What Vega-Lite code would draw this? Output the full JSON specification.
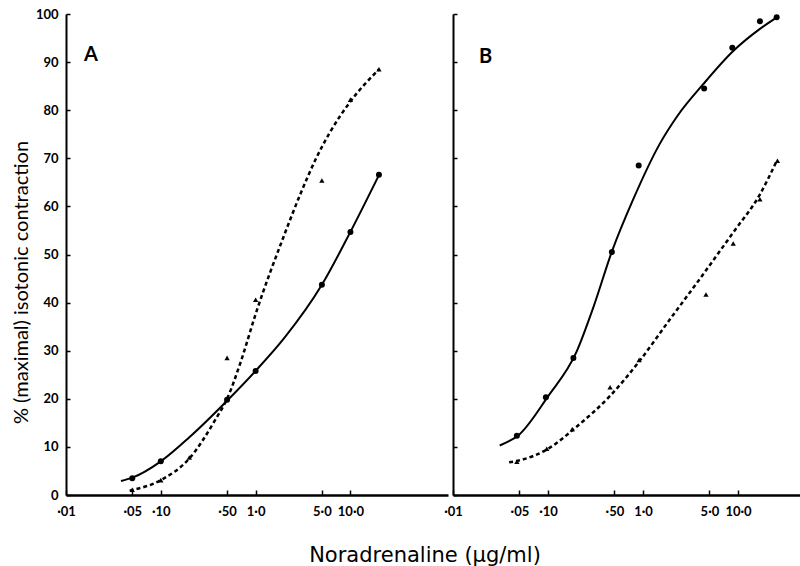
{
  "$schema": "https://vega.github.io/schema/vega-lite/v6.json",
  "padding": {"left": 11, "top": 8, "right": 0, "bottom": 0},
  "background": "white",
  "bounds": "flush",
  "spacing": 5,
  "title": {"text": "Noradrenaline (μg/ml)", "orient": "bottom", "anchor": "middle", "font": "DejaVu Sans", "fontSize": 21, "fontWeight": "normal", "color": "black", "offset": 27, "dx": 19},
  "config": {
    "view": {"stroke": null},
    "axis": {"grid": false, "domainColor": "black", "tickColor": "black", "labelColor": "black", "titleColor": "black", "labelFont": "Lato", "titleFont": "Lato", "labelFontWeight": "bold", "titleFontWeight": "normal"}
  },
  "datasets": {
    "pts": [
      {"panel": "A", "series": "circle", "dose": 0.05, "pct": 3.5},
      {"panel": "A", "series": "circle", "dose": 0.1, "pct": 7.0},
      {"panel": "A", "series": "circle", "dose": 0.5, "pct": 19.8},
      {"panel": "A", "series": "circle", "dose": 1.0, "pct": 25.8},
      {"panel": "A", "series": "circle", "dose": 5.0, "pct": 43.7},
      {"panel": "A", "series": "circle", "dose": 10.0, "pct": 54.7},
      {"panel": "A", "series": "circle", "dose": 20.0, "pct": 66.6},
      {"panel": "A", "series": "triangle", "dose": 0.05, "pct": 1.1},
      {"panel": "A", "series": "triangle", "dose": 0.1, "pct": 3.1},
      {"panel": "A", "series": "triangle", "dose": 0.2, "pct": 7.8},
      {"panel": "A", "series": "triangle", "dose": 0.5, "pct": 28.5},
      {"panel": "A", "series": "triangle", "dose": 1.0, "pct": 40.6},
      {"panel": "A", "series": "triangle", "dose": 5.0, "pct": 65.4},
      {"panel": "A", "series": "triangle", "dose": 10.0, "pct": 82.2},
      {"panel": "A", "series": "triangle", "dose": 20.0, "pct": 88.5},
      {"panel": "B", "series": "circle", "dose": 0.047, "pct": 12.3},
      {"panel": "B", "series": "circle", "dose": 0.095, "pct": 20.3},
      {"panel": "B", "series": "circle", "dose": 0.185, "pct": 28.5},
      {"panel": "B", "series": "circle", "dose": 0.47, "pct": 50.5},
      {"panel": "B", "series": "circle", "dose": 0.9, "pct": 68.5},
      {"panel": "B", "series": "circle", "dose": 4.4, "pct": 84.5},
      {"panel": "B", "series": "circle", "dose": 8.7, "pct": 93.0},
      {"panel": "B", "series": "circle", "dose": 17.0, "pct": 98.5},
      {"panel": "B", "series": "circle", "dose": 25.5, "pct": 99.3},
      {"panel": "B", "series": "triangle", "dose": 0.047, "pct": 6.9},
      {"panel": "B", "series": "triangle", "dose": 0.097, "pct": 9.6},
      {"panel": "B", "series": "triangle", "dose": 0.18, "pct": 13.7},
      {"panel": "B", "series": "triangle", "dose": 0.45, "pct": 22.4},
      {"panel": "B", "series": "triangle", "dose": 0.91, "pct": 28.1},
      {"panel": "B", "series": "triangle", "dose": 4.6, "pct": 41.7},
      {"panel": "B", "series": "triangle", "dose": 8.9, "pct": 52.3},
      {"panel": "B", "series": "triangle", "dose": 17.0, "pct": 61.5},
      {"panel": "B", "series": "triangle", "dose": 26.0, "pct": 69.5}
    ],
    "curves": [
      {"panel": "A", "series": "circle", "dose": 0.038, "pct": 2.9},
      {"panel": "A", "series": "circle", "dose": 0.05, "pct": 3.6},
      {"panel": "A", "series": "circle", "dose": 0.1, "pct": 7.0},
      {"panel": "A", "series": "circle", "dose": 0.2, "pct": 12.0},
      {"panel": "A", "series": "circle", "dose": 0.5, "pct": 19.6},
      {"panel": "A", "series": "circle", "dose": 1.0, "pct": 25.8},
      {"panel": "A", "series": "circle", "dose": 2.0, "pct": 32.6},
      {"panel": "A", "series": "circle", "dose": 5.0, "pct": 43.7},
      {"panel": "A", "series": "circle", "dose": 10.0, "pct": 54.7},
      {"panel": "A", "series": "circle", "dose": 20.0, "pct": 66.5},
      {"panel": "A", "series": "triangle", "dose": 0.047, "pct": 0.9},
      {"panel": "A", "series": "triangle", "dose": 0.1, "pct": 3.1},
      {"panel": "A", "series": "triangle", "dose": 0.2, "pct": 7.6},
      {"panel": "A", "series": "triangle", "dose": 0.38, "pct": 15.8},
      {"panel": "A", "series": "triangle", "dose": 0.5, "pct": 20.0},
      {"panel": "A", "series": "triangle", "dose": 0.7, "pct": 27.8},
      {"panel": "A", "series": "triangle", "dose": 1.0, "pct": 37.6},
      {"panel": "A", "series": "triangle", "dose": 2.0, "pct": 54.0},
      {"panel": "A", "series": "triangle", "dose": 3.0, "pct": 62.8},
      {"panel": "A", "series": "triangle", "dose": 4.3, "pct": 69.8},
      {"panel": "A", "series": "triangle", "dose": 6.0, "pct": 75.2},
      {"panel": "A", "series": "triangle", "dose": 10.0, "pct": 81.8},
      {"panel": "A", "series": "triangle", "dose": 20.0, "pct": 88.5},
      {"panel": "B", "series": "circle", "dose": 0.031, "pct": 10.3},
      {"panel": "B", "series": "circle", "dose": 0.05, "pct": 12.6},
      {"panel": "B", "series": "circle", "dose": 0.1, "pct": 20.5},
      {"panel": "B", "series": "circle", "dose": 0.2, "pct": 29.8},
      {"panel": "B", "series": "circle", "dose": 0.3, "pct": 39.0},
      {"panel": "B", "series": "circle", "dose": 0.47, "pct": 50.6},
      {"panel": "B", "series": "circle", "dose": 0.79, "pct": 61.5},
      {"panel": "B", "series": "circle", "dose": 1.5, "pct": 73.0},
      {"panel": "B", "series": "circle", "dose": 2.3, "pct": 78.8},
      {"panel": "B", "series": "circle", "dose": 4.3, "pct": 85.4},
      {"panel": "B", "series": "circle", "dose": 8.9, "pct": 92.3},
      {"panel": "B", "series": "circle", "dose": 17.0, "pct": 96.9},
      {"panel": "B", "series": "circle", "dose": 25.6, "pct": 99.3},
      {"panel": "B", "series": "triangle", "dose": 0.039, "pct": 6.8},
      {"panel": "B", "series": "triangle", "dose": 0.05, "pct": 7.2},
      {"panel": "B", "series": "triangle", "dose": 0.1, "pct": 9.6},
      {"panel": "B", "series": "triangle", "dose": 0.2, "pct": 14.2},
      {"panel": "B", "series": "triangle", "dose": 0.45, "pct": 20.6},
      {"panel": "B", "series": "triangle", "dose": 0.93, "pct": 28.0},
      {"panel": "B", "series": "triangle", "dose": 2.0, "pct": 37.0},
      {"panel": "B", "series": "triangle", "dose": 2.9, "pct": 41.3},
      {"panel": "B", "series": "triangle", "dose": 4.3, "pct": 45.9},
      {"panel": "B", "series": "triangle", "dose": 8.9, "pct": 54.6},
      {"panel": "B", "series": "triangle", "dose": 17.0, "pct": 62.5},
      {"panel": "B", "series": "triangle", "dose": 25.6, "pct": 69.5}
    ]
  },
  "hconcat": [
    {
      "width": 382,
      "height": 481,
      "title": {"text": "A", "orient": "top", "anchor": "start", "frame": "group", "offset": -57, "dx": 18, "baseline": "top", "font": "Lato", "fontSize": 20, "fontWeight": "bold", "color": "black"},
      "encoding": {
        "x": {"field": "dose", "type": "quantitative", "scale": {"type": "log", "domain": [0.01, 107], "nice": false},
          "axis": {"title": null, "values": [0.01, 0.05, 0.1, 0.5, 1, 5, 10],
            "labelExpr": "datum.value == 0.01 ? '·01' : datum.value == 0.05 ? '·05' : datum.value == 0.1 ? '·10' : datum.value == 0.5 ? '·50' : datum.value == 1 ? '1·0' : datum.value == 5 ? '5·0' : '10·0'",
            "tickSize": -5, "tickWidth": 1.5, "labelPadding": 15, "domainWidth": 2.5, "labelFontSize": 13, "labelFlush": false, "labelOverlap": false, "labelBound": false}},
        "y": {"field": "pct", "type": "quantitative", "scale": {"domain": [0, 100], "nice": false, "zero": false},
          "axis": {"title": "% (maximal) isotonic contraction", "values": [0, 10, 20, 30, 40, 50, 60, 70, 80, 90, 100],
            "tickSize": -4, "tickWidth": 1.5, "labelPadding": 12, "domainWidth": 2, "labelFontSize": 13,
            "titleFontSize": 20, "titleAngle": -90, "titleX": -45, "titleY": 268, "titleAlign": "center", "titleBaseline": "middle"}}
      },
      "layer": [
        {"data": {"name": "curves"}, "transform": [{"filter": "datum.panel == 'A' && datum.series == 'circle'"}],
          "mark": {"type": "line", "interpolate": "monotone", "color": "black", "strokeWidth": 2}},
        {"data": {"name": "curves"}, "transform": [{"filter": "datum.panel == 'A' && datum.series == 'triangle'"}],
          "mark": {"type": "line", "interpolate": "monotone", "color": "black", "strokeWidth": 2.5, "strokeDash": [4, 3]}},
        {"data": {"name": "pts"}, "transform": [{"filter": "datum.panel == 'A' && datum.series == 'circle'"}],
          "mark": {"type": "point", "shape": "circle", "filled": true, "color": "black", "size": 36, "opacity": 1}},
        {"data": {"name": "pts"}, "transform": [{"filter": "datum.panel == 'A' && datum.series == 'triangle'"}],
          "mark": {"type": "point", "shape": "triangle-up", "filled": true, "color": "black", "size": 28, "opacity": 1}}
      ]
    },
    {
      "width": 348,
      "height": 481,
      "title": {"text": "B", "orient": "top", "anchor": "start", "frame": "group", "offset": -54, "dx": 26, "baseline": "top", "font": "Lato", "fontSize": 20, "fontWeight": "bold", "color": "black"},
      "encoding": {
        "x": {"field": "dose", "type": "quantitative", "scale": {"type": "log", "domain": [0.01, 46], "nice": false},
          "axis": {"title": null, "values": [0.01, 0.05, 0.1, 0.5, 1, 5, 10],
            "labelExpr": "datum.value == 0.01 ? '·01' : datum.value == 0.05 ? '·05' : datum.value == 0.1 ? '·10' : datum.value == 0.5 ? '·50' : datum.value == 1 ? '1·0' : datum.value == 5 ? '5·0' : '10·0'",
            "tickSize": -5, "tickWidth": 1.5, "labelPadding": 15, "domainWidth": 2.5, "labelFontSize": 13, "labelFlush": false, "labelOverlap": false, "labelBound": false}},
        "y": {"field": "pct", "type": "quantitative", "scale": {"domain": [0, 100], "nice": false, "zero": false},
          "axis": {"title": null, "labels": false, "values": [0, 10, 20, 30, 40, 50, 60, 70, 80, 90, 100],
            "tickSize": -4, "tickWidth": 1.5, "domainWidth": 2}}
      },
      "layer": [
        {"data": {"name": "curves"}, "transform": [{"filter": "datum.panel == 'B' && datum.series == 'circle'"}],
          "mark": {"type": "line", "interpolate": "monotone", "color": "black", "strokeWidth": 2}},
        {"data": {"name": "curves"}, "transform": [{"filter": "datum.panel == 'B' && datum.series == 'triangle'"}],
          "mark": {"type": "line", "interpolate": "monotone", "color": "black", "strokeWidth": 2.5, "strokeDash": [4, 3]}},
        {"data": {"name": "pts"}, "transform": [{"filter": "datum.panel == 'B' && datum.series == 'circle'"}],
          "mark": {"type": "point", "shape": "circle", "filled": true, "color": "black", "size": 36, "opacity": 1}},
        {"data": {"name": "pts"}, "transform": [{"filter": "datum.panel == 'B' && datum.series == 'triangle'"}],
          "mark": {"type": "point", "shape": "triangle-up", "filled": true, "color": "black", "size": 28, "opacity": 1}}
      ]
    }
  ]
}
